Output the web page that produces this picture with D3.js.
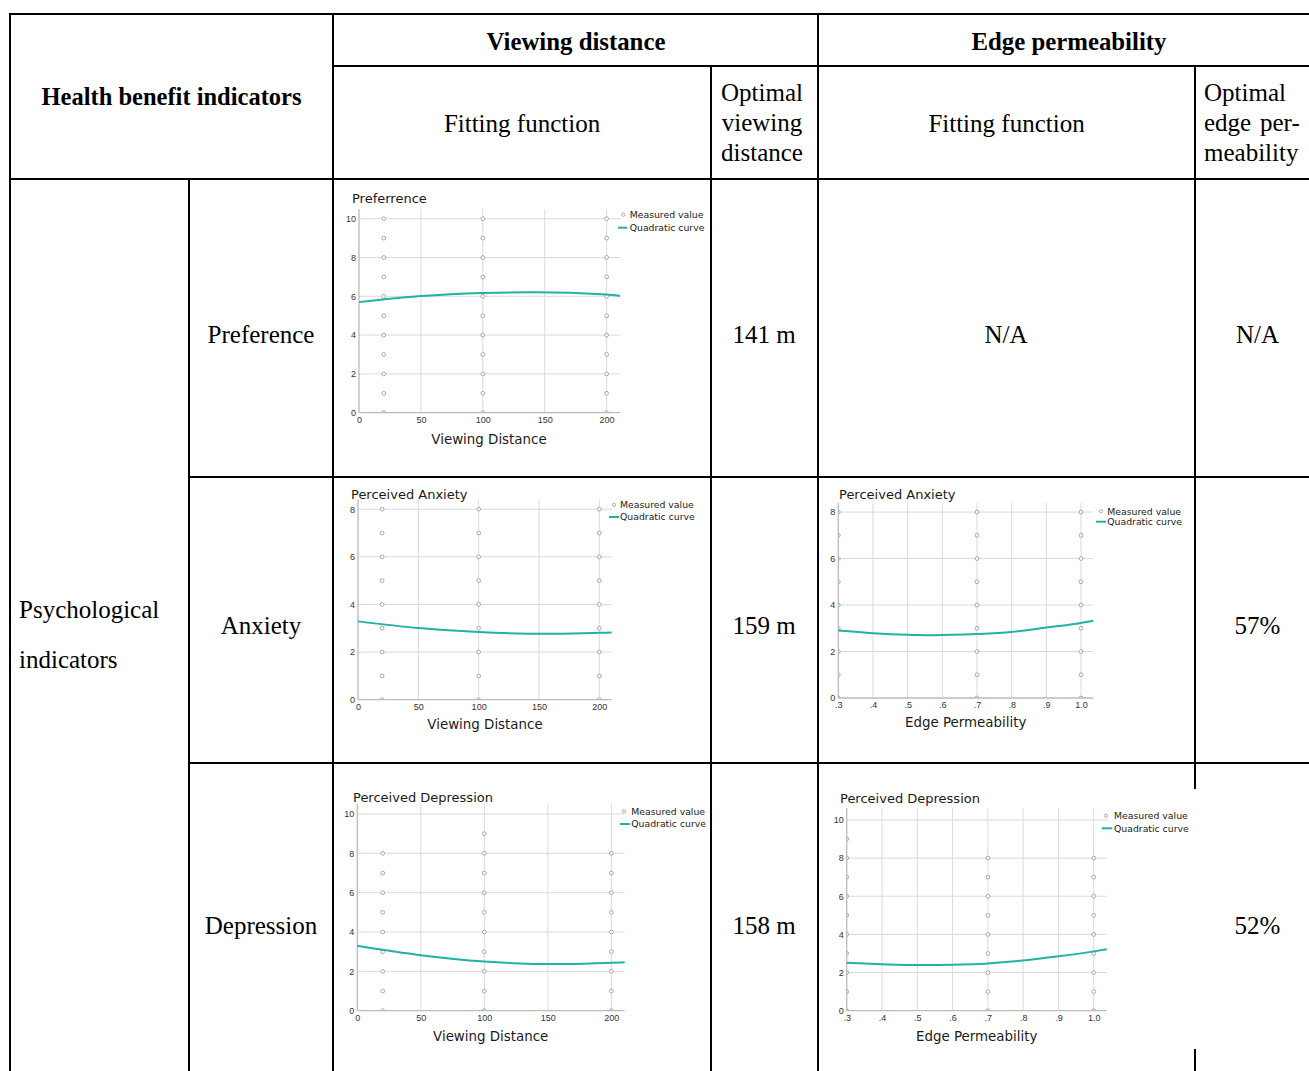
<!DOCTYPE html>
<html>
<head>
<meta charset="utf-8">
<script src="https://cdn.jsdelivr.net/npm/d3@7"></script>
<style>
  body { margin: 0; background: #fff; }
  svg { display: block; }
</style>
</head>
<body>
<svg id="table" width="1309" height="1071"></svg>
<script>
// ---------- table text ----------
const headerTop = "Health benefit indicators";
const groupHeaders = ["Viewing distance", "Edge permeability"];
const subHeaderFit = "Fitting function";
const optimalDistanceHeader = ["Optimal", "viewing", "distance"];
const optimalPermeabilityHeader = ["Optimal", "edge", "per-", "meability"];
const groupLabel = ["Psychological", "indicators"];
const rowLabels = ["Preference", "Anxiety", "Depression"];
const optimalDistance = ["141 m", "159 m", "158 m"];
const optimalPermeability = ["N/A", "57%", "52%"];
const chartTitles = ["Preferrence", "Perceived Anxiety", "Perceived Depression"];
const legendLabels = ["Measured value", "Quadratic curve"];
const axisTitles = ["Viewing Distance", "Edge Permeability"];

// ---------- axes ----------
const distanceTicks = [0, 50, 100, 150, 200];
const distanceTickLabels = ["0", "50", "100", "150", "200"];
const permeabilityTicks = [0.3, 0.4, 0.5, 0.6, 0.7, 0.8, 0.9, 1.0];
const permeabilityTickLabels = [".3", ".4", ".5", ".6", ".7", ".8", ".9", "1.0"];
const scoreTicks10 = [0, 2, 4, 6, 8, 10];
const scoreTicks8 = [0, 2, 4, 6, 8];

// ---------- measured scores (per level) ----------
const distanceLevels = [20, 100, 200];
const permeabilityLevels = [0.3, 0.7, 1.0];
const preferenceByDistance = [
  [0, 1, 2, 3, 4, 5, 6, 7, 8, 9, 10],
  [0, 1, 2, 3, 4, 5, 6, 7, 8, 9, 10],
  [0, 1, 2, 3, 4, 5, 6, 7, 8, 9, 10]
];
const anxietyByDistance = [
  [0, 1, 2, 3, 4, 5, 6, 7, 8],
  [0, 1, 2, 3, 4, 5, 6, 7, 8],
  [0, 1, 2, 3, 4, 5, 6, 7, 8]
];
const anxietyByPermeability = [
  [0, 1, 2, 3, 4, 5, 6, 7, 8],
  [0, 1, 2, 3, 4, 5, 6, 7, 8],
  [0, 1, 2, 3, 4, 5, 6, 7, 8]
];
const depressionByDistance = [
  [0, 1, 2, 3, 4, 5, 6, 7, 8],
  [0, 1, 2, 3, 4, 5, 6, 7, 8, 9],
  [0, 1, 2, 3, 4, 5, 6, 7, 8]
];
const depressionByPermeability = [
  [0, 1, 2, 3, 4, 5, 6, 7, 8, 9],
  [0, 1, 2, 3, 4, 5, 6, 7, 8],
  [0, 1, 2, 3, 4, 5, 6, 7, 8]
];

// ---------- quadratic fit curves (sampled) ----------
const preferenceDistanceFitX = [0, 50, 100, 141, 200, 210.8];
const preferenceDistanceFitY = [5.70, 6.01, 6.17, 6.21, 6.09, 6.02];
const anxietyDistanceFitX = [0, 50, 100, 159, 200, 210.3];
const anxietyDistanceFitY = [3.29, 3.01, 2.84, 2.77, 2.81, 2.82];
const anxietyPermeabilityFitX = [0.3, 0.4, 0.5, 0.57, 0.7, 0.8, 0.9, 1.0, 1.035];
const anxietyPermeabilityFitY = [2.90, 2.79, 2.72, 2.70, 2.75, 2.84, 3.03, 3.23, 3.32];
const depressionDistanceFitX = [0, 50, 100, 158, 200, 210.5];
const depressionDistanceFitY = [3.30, 2.82, 2.50, 2.37, 2.44, 2.46];
const depressionPermeabilityFitX = [0.3, 0.4, 0.52, 0.6, 0.7, 0.8, 0.9, 1.0, 1.037];
const depressionPermeabilityFitY = [2.52, 2.44, 2.39, 2.41, 2.48, 2.63, 2.85, 3.11, 3.22];

// ---------- drawing ----------
const W = 1309, H = 1071;
const svg = d3.select("#table");
const SERIF = "'Liberation Serif', 'Times New Roman', serif";
const SANS = "'DejaVu Sans', 'Liberation Sans', sans-serif";
const NARROW = "'Liberation Sans Narrow', 'Liberation Sans', Arial, sans-serif";
const TEAL = "#1fb3a0";

svg.append("rect").attr("width", W).attr("height", H).attr("fill", "#fff");

// table rules
const rulesV = [
  { x: 10, y1: 13, y2: H + 5 }, { x: 189, y1: 179, y2: H + 5 },
  { x: 333, y1: 13, y2: H + 5 }, { x: 711, y1: 66, y2: H + 5 },
  { x: 818, y1: 13, y2: H + 5 }, { x: 1195, y1: 66, y2: H + 5 }
];
const rulesH = [
  { y: 14, x1: 9, x2: W + 5 }, { y: 66, x1: 333, x2: W + 5 },
  { y: 179, x1: 9, x2: W + 5 }, { y: 477, x1: 189, x2: W + 5 },
  { y: 763, x1: 189, x2: W + 5 }
];
const rules = svg.append("g").attr("stroke", "#000").attr("stroke-width", 2);
rules.selectAll(".v").data(rulesV).join("line")
  .attr("x1", d => d.x).attr("x2", d => d.x).attr("y1", d => d.y1).attr("y2", d => d.y2);
rules.selectAll(".h").data(rulesH).join("line")
  .attr("x1", d => d.x1).attr("x2", d => d.x2).attr("y1", d => d.y).attr("y2", d => d.y);

function label(x, y, str, anchor = "middle", weight = "normal", size = 25) {
  return svg.append("text").attr("x", x).attr("y", y)
    .attr("text-anchor", anchor).attr("font-family", SERIF)
    .attr("font-size", size).attr("font-weight", weight).attr("fill", "#000").text(str);
}

// header cells
label(171.5, 105, headerTop, "middle", "bold", 24.5);
label(576, 50, groupHeaders[0], "middle", "bold", 24.8);
label(1069, 50, groupHeaders[1], "middle", "bold", 24.8);
label(522, 132, subHeaderFit);
label(1006.5, 132, subHeaderFit);
optimalDistanceHeader.forEach((s, i) => label(762, 101 + i * 30, s));
label(1204, 101, optimalPermeabilityHeader[0], "start");
label(1204, 131, optimalPermeabilityHeader[1], "start");
label(1260, 131, optimalPermeabilityHeader[2], "start");
label(1204, 161, optimalPermeabilityHeader[3], "start");

// body cells
label(19, 618, groupLabel[0], "start");
label(19, 668, groupLabel[1], "start");
const rowBaselines = [343, 634, 934];
rowLabels.forEach((s, i) => label(261, rowBaselines[i], s));
optimalDistance.forEach((s, i) => label(764, rowBaselines[i], s));
optimalPermeability.forEach((s, i) => label(1257.5, rowBaselines[i], s));
label(1006, rowBaselines[0], optimalPermeability[0]);

// embedded fit charts
const charts = [
  {
    title: chartTitles[0], xTitle: axisTitles[0], levels: distanceLevels, scores: preferenceByDistance,
    fitX: preferenceDistanceFitX, fitY: preferenceDistanceFitY,
    xDomain: [0, 210.8], yDomain: [0, 10.5], xTicks: distanceTicks, xTickLabels: distanceTickLabels, yTicks: scoreTicks10,
    box: { left: 359, right: 620, top: 209, bottom: 412.7 },
    titlePos: [352, 203], xTitlePos: [489, 444],
    legend: { dot: 623.3, text: 629.7, l1: 618, l2: 627.3, y1: 214.7, y2: 227.7 }
  },
  {
    title: chartTitles[1], xTitle: axisTitles[0], levels: distanceLevels, scores: anxietyByDistance,
    fitX: anxietyDistanceFitX, fitY: anxietyDistanceFitY,
    xDomain: [0, 210.3], yDomain: [0, 8.4], xTicks: distanceTicks, xTickLabels: distanceTickLabels, yTicks: scoreTicks8,
    box: { left: 358, right: 611.7, top: 499.7, bottom: 699.7 },
    titlePos: [351, 498.7], xTitlePos: [485, 728.7],
    legend: { dot: 614, text: 620, l1: 609, l2: 619, y1: 504.7, y2: 517 }
  },
  {
    title: chartTitles[1], xTitle: axisTitles[1], levels: permeabilityLevels, scores: anxietyByPermeability,
    fitX: anxietyPermeabilityFitX, fitY: anxietyPermeabilityFitY,
    xDomain: [0.3, 1.0355], yDomain: [0, 8.39], xTicks: permeabilityTicks, xTickLabels: permeabilityTickLabels, yTicks: scoreTicks8,
    box: { left: 838.3, right: 1093.3, top: 503, bottom: 698 },
    titlePos: [839, 498.7], xTitlePos: [965.7, 727.3],
    legend: { dot: 1101, text: 1107.3, l1: 1096, l2: 1106, y1: 511.3, y2: 521.7 }
  },
  {
    title: chartTitles[2], xTitle: axisTitles[0], levels: distanceLevels, scores: depressionByDistance,
    fitX: depressionDistanceFitX, fitY: depressionDistanceFitY,
    xDomain: [0, 210.5], yDomain: [0, 10.51], xTicks: distanceTicks, xTickLabels: distanceTickLabels, yTicks: scoreTicks10,
    box: { left: 357.3, right: 624.7, top: 804, bottom: 1010.7 },
    titlePos: [353, 801.7], xTitlePos: [490.7, 1041.3],
    legend: { dot: 624, text: 631.3, l1: 620, l2: 630, y1: 811.3, y2: 824 }
  },
  {
    title: chartTitles[2], xTitle: axisTitles[1], levels: permeabilityLevels, scores: depressionByPermeability,
    fitX: depressionPermeabilityFitX, fitY: depressionPermeabilityFitY,
    xDomain: [0.3, 1.0368], yDomain: [0, 10.61], xTicks: permeabilityTicks, xTickLabels: permeabilityTickLabels, yTicks: scoreTicks10,
    box: { left: 846.7, right: 1106.7, top: 808.3, bottom: 1010.7 },
    titlePos: [840, 803.3], xTitlePos: [976.7, 1041.3],
    legend: { dot: 1106, text: 1114, l1: 1101.7, l2: 1112.3, y1: 815.7, y2: 828.3 },
    backdrop: { x: 822, y: 789, w: 375, h: 260 }
  }
];

const defs = svg.append("defs");

charts.forEach((c, ci) => {
  const g = svg.append("g");
  const b = c.box;
  if (c.backdrop) {
    g.append("rect").attr("x", c.backdrop.x).attr("y", c.backdrop.y)
      .attr("width", c.backdrop.w).attr("height", c.backdrop.h).attr("fill", "#fff");
  }
  const x = d3.scaleLinear().domain(c.xDomain).range([b.left, b.right]);
  const y = d3.scaleLinear().domain(c.yDomain).range([b.bottom, b.top]);

  // grid
  g.append("g").selectAll("line").data(c.yTicks.filter(v => v > 0)).join("line")
    .attr("x1", b.left).attr("x2", b.right).attr("y1", d => y(d)).attr("y2", d => y(d))
    .attr("stroke", "#dadada").attr("stroke-width", 1);
  g.append("g").selectAll("line").data(c.xTicks.slice(1)).join("line")
    .attr("x1", d => x(d)).attr("x2", d => x(d)).attr("y1", b.top).attr("y2", b.bottom)
    .attr("stroke", "#dadada").attr("stroke-width", 1);

  // measured points, clipped to the plot area
  const clipId = "plot-clip-" + ci;
  defs.append("clipPath").attr("id", clipId).append("rect")
    .attr("x", b.left).attr("y", b.top).attr("width", b.right - b.left).attr("height", b.bottom - b.top);
  const pts = c.levels.flatMap((lv, i) => c.scores[i].map(v => ({ lv, v })));
  g.append("g").attr("clip-path", `url(#${clipId})`)
    .selectAll("circle").data(pts).join("circle")
    .attr("cx", d => x(d.lv)).attr("cy", d => y(d.v)).attr("r", 1.9)
    .attr("fill", "#fff").attr("stroke", "#999").attr("stroke-width", 0.85);

  // axis lines
  g.append("line").attr("x1", b.left).attr("x2", b.left).attr("y1", b.top).attr("y2", b.bottom)
    .attr("stroke", "#bbb").attr("stroke-width", 1.3);
  g.append("line").attr("x1", b.left).attr("x2", b.right).attr("y1", b.bottom).attr("y2", b.bottom)
    .attr("stroke", "#bbb").attr("stroke-width", 1.3);

  // fitted curve
  const line = d3.line().x(d => x(d[0])).y(d => y(d[1])).curve(d3.curveMonotoneX);
  g.append("path").datum(d3.zip(c.fitX, c.fitY)).attr("d", line)
    .attr("fill", "none").attr("stroke", TEAL).attr("stroke-width", 2);

  // tick labels
  const yAxis = g.append("g").attr("transform", `translate(${b.left},0)`)
    .call(d3.axisLeft(y).tickValues(c.yTicks).tickFormat(d3.format("d")).tickSize(0).tickPadding(3));
  const xAxis = g.append("g").attr("transform", `translate(0,${b.bottom})`)
    .call(d3.axisBottom(x).tickValues(c.xTicks).tickFormat((d, i) => c.xTickLabels[i]).tickSize(0).tickPadding(4));
  [yAxis, xAxis].forEach(a => {
    a.select(".domain").remove();
    a.selectAll("text").attr("font-family", NARROW).attr("font-size", 9).attr("fill", "#333");
  });

  // titles
  g.append("text").attr("x", c.titlePos[0]).attr("y", c.titlePos[1])
    .attr("font-family", SANS).attr("font-size", 13).attr("fill", "#1a1a1a").text(c.title);
  g.append("text").attr("x", c.xTitlePos[0]).attr("y", c.xTitlePos[1]).attr("text-anchor", "middle")
    .attr("font-family", SANS).attr("font-size", 13.4).attr("fill", "#1a1a1a").text(c.xTitle);

  // legend
  const L = c.legend;
  g.append("circle").attr("cx", L.dot).attr("cy", L.y1).attr("r", 1.6)
    .attr("fill", "#fff").attr("stroke", "#999").attr("stroke-width", 0.8);
  g.append("line").attr("x1", L.l1).attr("x2", L.l2).attr("y1", L.y2).attr("y2", L.y2)
    .attr("stroke", TEAL).attr("stroke-width", 2);
  [[legendLabels[0], L.y1], [legendLabels[1], L.y2]].forEach(([s, yy]) => {
    g.append("text").attr("x", L.text).attr("y", yy + 3.4)
      .attr("font-family", SANS).attr("font-size", 9.3).attr("fill", "#1a1a1a").text(s);
  });
});
</script>
</body>
</html>
